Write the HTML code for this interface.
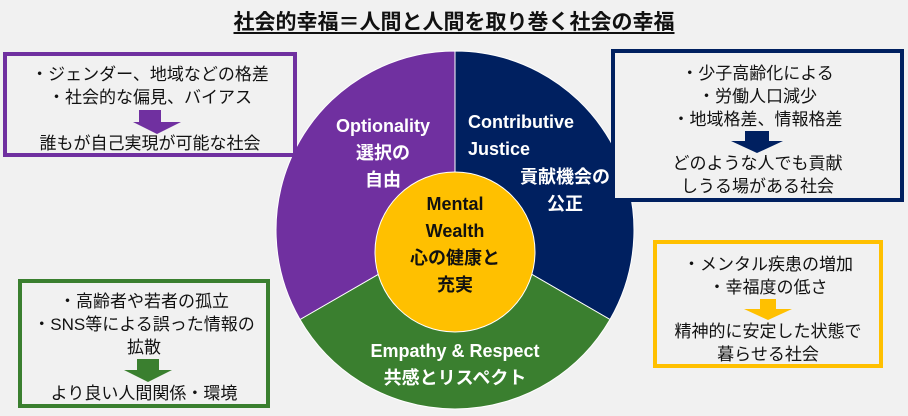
<!DOCTYPE html>
<html><head><meta charset="utf-8"><style>
body{margin:0;width:908px;height:416px;background:#f1f1f1;position:relative;overflow:hidden;font-family:"Liberation Sans","Noto Sans CJK JP",sans-serif;}
.t{position:absolute;left:0;width:908px;top:6px;text-align:center;font-size:21px;font-weight:bold;color:#111;}
.t span{text-decoration:underline;text-underline-offset:3px}
.box{position:absolute;box-sizing:border-box;border:4px solid;background:#f1f1f1;text-align:center;font-size:17px;line-height:23px;color:#111;}
.pt{position:absolute;color:#fff;font-weight:bold;font-size:18px;line-height:27px;text-align:center}
</style></head><body>
<div class="t"><span>社会的幸福＝人間と人間を取り巻く社会の幸福</span></div>
<svg width="908" height="416" style="position:absolute;left:0;top:0">
<path d="M455,230 L455,51 A179,179 0 0 1 610,319.5 Z" fill="#002060" stroke="#fff" stroke-width="1"/>
<path d="M455,230 L610,319.5 A179,179 0 0 1 300,319.5 Z" fill="#3a7f2f" stroke="#fff" stroke-width="1"/>
<path d="M455,230 L300,319.5 A179,179 0 0 1 455,51 Z" fill="#7030a0" stroke="#fff" stroke-width="1"/>
<circle cx="455" cy="252" r="80" fill="#ffc000" stroke="#fff" stroke-width="1"/>
</svg>
<div class="pt" style="left:318px;top:113px;width:130px">Optionality<br>選択の<br>自由</div>
<div class="pt" style="left:468px;top:109px;width:130px;text-align:left">Contributive<br>Justice</div>
<div class="pt" style="left:500px;top:164px;width:130px">貢献機会の<br>公正</div>
<div class="pt" style="left:375px;top:191px;width:160px;color:#111">Mental<br>Wealth<br>心の健康と<br>充実</div>
<div class="pt" style="left:325px;top:338px;width:260px">Empathy &amp; Respect<br>共感とリスペクト</div>

<div class="box" style="left:3px;top:52px;width:294px;height:105px;border-color:#7030a0;padding-top:7px">・ジェンダー、地域などの格差<br>・社会的な偏見、バイアス
<div style="height:23px;position:relative"><div style="position:absolute;left:132px;top:1px;width:22px;height:12px;background:#7030a0"></div><div style="position:absolute;left:126px;top:13px;border-left:24px solid transparent;border-right:24px solid transparent;border-top:12px solid #7030a0"></div></div>誰もが自己実現が可能な社会</div>

<div class="box" style="left:611px;top:49px;width:293px;height:153px;border-color:#002060;padding-top:9px">・少子高齢化による<br>・労働人口減少<br>・地域格差、情報格差
<div style="height:21px;position:relative"><div style="position:absolute;left:130px;top:0;width:24px;height:10px;background:#002060"></div><div style="position:absolute;left:116px;top:10px;border-left:26px solid transparent;border-right:26px solid transparent;border-top:12px solid #002060"></div></div>どのような人でも貢献<br>しうる場がある社会</div>

<div class="box" style="left:653px;top:240px;width:230px;height:128px;border-color:#ffc000;padding-top:9px">・メンタル疾患の増加<br>・幸福度の低さ
<div style="height:21px;position:relative"><div style="position:absolute;left:103px;top:0;width:16px;height:10px;background:#ffc000"></div><div style="position:absolute;left:87px;top:10px;border-left:24px solid transparent;border-right:24px solid transparent;border-top:11px solid #ffc000"></div></div>精神的に安定した状態で<br>暮らせる社会</div>

<div class="box" style="left:18px;top:279px;width:252px;height:129px;border-color:#3a7f2f;padding-top:7px">・高齢者や若者の孤立<br>・SNS等による誤った情報の<br>拡散
<div style="height:23px;position:relative"><div style="position:absolute;left:115px;top:0;width:22px;height:11px;background:#3a7f2f"></div><div style="position:absolute;left:102px;top:11px;border-left:24px solid transparent;border-right:24px solid transparent;border-top:12px solid #3a7f2f"></div></div>より良い人間関係・環境</div>
</body></html>
